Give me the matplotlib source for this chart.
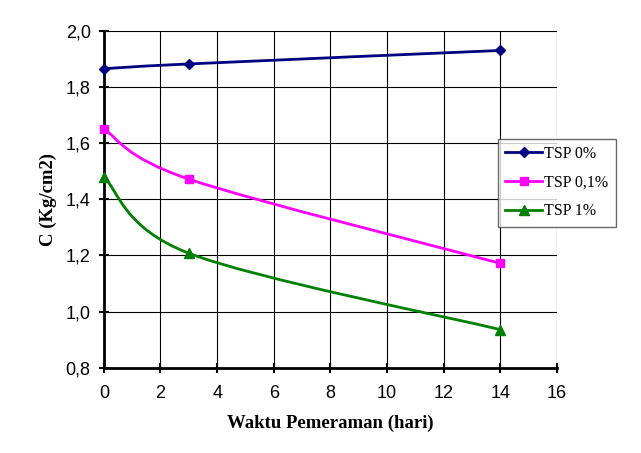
#!/usr/bin/env python3
"""Kohesi C (Kg/cm2) vs waktu pemeraman, Excel-style smoothed lines."""
import numpy as np
import matplotlib
matplotlib.use("Agg", force=True)
import matplotlib.pyplot as plt
from matplotlib.path import Path
from matplotlib.patches import PathPatch
from matplotlib.lines import Line2D

days = [0, 3, 14]
tsp_0 = [1.865, 1.882, 1.930]
tsp_01 = [1.650, 1.472, 1.172]
tsp_1 = [1.480, 1.208, 0.936]

series = [
    ("TSP 0%", tsp_0, "#000080", "D", 5),
    ("TSP 0,1%", tsp_01, "#FF00FF", "s", 6),
    ("TSP 1%", tsp_1, "#008000", "^", 7),
]


def excel_smooth(x, y):
    # cubic Bezier through the points, control points like Excel's "smoothed line"
    p = np.column_stack([x, y]).astype(float)
    n = len(p)
    verts, codes = [p[0]], [Path.MOVETO]
    for i in range(n - 1):
        prev = p[i - 1] if i > 0 else p[i]
        nxt = p[i + 2] if i + 2 < n else p[i + 1]
        c1 = p[i] + (p[i + 1] - prev) / 6
        c2 = p[i + 1] - (nxt - p[i]) / 6
        verts += [c1, c2, p[i + 1]]
        codes += [Path.CURVE4] * 3
    return Path(verts, codes)


plt.rcParams["font.family"] = ["Liberation Sans", "DejaVu Sans"]
fig = plt.figure(figsize=(6.41, 4.53), dpi=100)
ax = fig.add_axes([0.162, 0.188, 0.707, 0.744])

handles = []
for label, vals, col, mk, ms in series:
    ax.add_patch(PathPatch(excel_smooth(days, vals), fill=False, edgecolor=col, lw=2, zorder=3))
    ax.plot(days, vals, ls="none", marker=mk, ms=ms, color=col, zorder=4, clip_on=False)
    handles.append(Line2D([], [], color=col, lw=2, marker=mk, ms=ms))

ax.set_xlim(0, 16)
ax.set_ylim(0.8, 2.0)
ax.set_xticks(np.arange(0, 17, 2))
ax.set_yticks(np.arange(0.8, 2.01, 0.2))
ax.set_yticklabels([f"{v:.1f}".replace(".", ",") for v in np.arange(0.8, 2.01, 0.2)])
ax.grid(True, color="black", lw=0.8)
ax.set_axisbelow(True)
for s in ("top", "right"):
    ax.spines[s].set_visible(False)
for s in ("left", "bottom"):
    ax.spines[s].set_linewidth(2)
ax.tick_params(direction="inout", length=7, width=1.5, labelsize=13)
ax.tick_params(axis="x", pad=9)
ax.tick_params(axis="y", pad=6)

ax.set_xlabel("Waktu Pemeraman (hari)", family="Liberation Serif", weight="bold", fontsize=13.5, labelpad=9)
ax.set_ylabel("C (Kg/cm2)", family="Liberation Serif", weight="bold", fontsize=13.5, labelpad=6)

leg = ax.legend(handles, [s[0] for s in series], loc="upper left", bbox_to_anchor=(0.87, 0.68),
                prop={"family": "Liberation Serif", "size": 11.5}, frameon=True, fancybox=False,
                handlelength=2.3, handletextpad=0.15, labelspacing=0.8, borderpad=0.45,
                borderaxespad=0)
leg.get_frame().set_edgecolor("#444444")
leg.get_frame().set_linewidth(1)
leg.set_clip_on(False)

fig.savefig("out.png", dpi=100)
